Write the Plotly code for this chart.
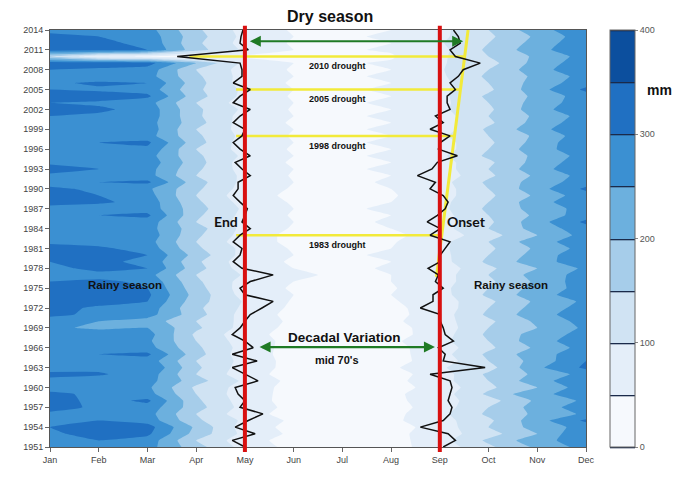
import numpy as np
import plotly.graph_objects as go

# ---------------- data ----------------
years = list(range(1951, 2015))
months = ["Jan", "Feb", "Mar", "Apr", "May", "Jun", "Jul", "Aug", "Sep", "Oct", "Nov", "Dec"]

# monthly rainfall (mm), one list per month, 1951 -> 2014
jan = [290, 280, 290, 300, 280, 290, 320, 330, 310, 280,
       290, 310, 280, 300, 290, 280, 270, 285, 260, 280,
       310, 320, 310, 320, 330, 300, 290, 280, 300, 320,
       320, 290, 280, 290, 280, 290, 280, 320, 330, 310,
       280, 290, 320, 290, 280, 290, 280, 290, 260, 290,
       300, 320, 300, 320, 300, 290, 280, 300, 330, 150,
       320, 330, 310, 290]
feb = [280, 300, 320, 330, 300, 280, 290, 280, 290, 270,
       280, 305, 290, 280, 300, 270, 250, 280, 240, 250,
       290, 290, 320, 330, 320, 310, 280, 320, 310, 330,
       310, 280, 290, 280, 290, 300, 270, 310, 300, 290,
       300, 280, 300, 280, 260, 280, 300, 280, 280, 280,
       290, 310, 290, 330, 290, 310, 260, 290, 330, 60,
       320, 310, 300, 280]
mar = [270, 280, 310, 320, 280, 270, 280, 310, 270, 260,
       270, 280, 300, 280, 310, 270, 260, 270, 250, 230,
       270, 280, 300, 310, 300, 290, 270, 300, 290, 300,
       280, 270, 280, 270, 280, 310, 280, 280, 270, 260,
       310, 270, 270, 280, 270, 290, 310, 270, 280, 270,
       280, 280, 270, 310, 280, 300, 270, 280, 320, 40,
       300, 290, 280, 270]
apr = [170, 150, 180, 190, 160, 150, 170, 160, 150, 140,
       170, 150, 160, 150, 170, 160, 150, 140, 160, 150,
       170, 160, 170, 180, 170, 160, 150, 170, 160, 180,
       160, 150, 160, 170, 150, 160, 170, 160, 150, 160,
       170, 150, 160, 170, 160, 150, 170, 160, 150, 170,
       160, 160, 150, 170, 160, 170, 160, 150, 200, 30,
       170, 160, 170, 160]
may = [80, 70, 85, 75, 90, 70, 80, 75, 70, 80,
       90, 70, 75, 85, 70, 80, 75, 70, 80, 85,
       80, 90, 95, 80, 75, 80, 95, 75, 70, 80,
       85, 70, 80, 85, 80, 85, 90, 80, 70, 80,
       85, 90, 80, 75, 90, 80, 75, 85, 80, 75,
       80, 90, 75, 85, 90, 75, 80, 80, 85, 40,
       90, 80, 85, 80]
jun = [35, 30, 40, 35, 40, 30, 35, 30, 35, 30,
       35, 30, 35, 30, 35, 30, 35, 30, 35, 40,
       35, 40, 45, 50, 45, 50, 55, 50, 45, 50,
       45, 40, 35, 45, 50, 45, 50, 45, 40, 45,
       50, 45, 50, 45, 50, 45, 50, 45, 50, 45,
       50, 45, 50, 45, 50, 45, 50, 45, 50, 40,
       50, 45, 50, 45]
jul = [25, 20, 25, 20, 30, 25, 25, 20, 25, 20,
       25, 20, 25, 25, 20, 25, 25, 20, 25, 30,
       25, 30, 35, 40, 35, 40, 45, 40, 40, 45,
       40, 35, 30, 35, 40, 40, 45, 40, 35, 40,
       40, 40, 45, 40, 45, 40, 45, 40, 45, 40,
       45, 40, 45, 40, 45, 40, 45, 40, 45, 35,
       45, 40, 45, 40]
aug = [35, 30, 35, 30, 40, 35, 30, 35, 40, 30,
       35, 30, 40, 35, 30, 35, 40, 30, 35, 40,
       35, 40, 45, 50, 45, 50, 50, 55, 50, 55,
       50, 45, 40, 50, 55, 50, 55, 50, 45, 50,
       55, 50, 55, 50, 55, 50, 55, 50, 55, 50,
       55, 50, 55, 50, 55, 50, 55, 50, 55, 45,
       55, 50, 55, 50]
sep = [70, 80, 75, 70, 80, 85, 75, 80, 75, 70,
       80, 75, 95, 70, 80, 75, 85, 75, 70, 80,
       75, 70, 75, 80, 85, 80, 75, 70, 80, 85,
       90, 85, 70, 80, 75, 80, 85, 85, 80, 75,
       80, 70, 75, 80, 90, 75, 80, 90, 70, 80,
       75, 90, 85, 85, 90, 85, 90, 95, 95, 90,
       85, 95, 90, 85]
oct_ = [140, 160, 130, 150, 140, 160, 150, 130, 160, 140,
        150, 160, 130, 150, 160, 140, 150, 160, 150, 140,
        160, 150, 140, 160, 150, 140, 150, 140, 160, 150,
        140, 150, 130, 150, 140, 150, 160, 150, 140, 150,
        160, 140, 150, 140, 160, 150, 140, 150, 160, 140,
        150, 140, 150, 160, 140, 150, 160, 150, 130, 150,
        160, 150, 140, 150]
nov = [210, 230, 200, 220, 230, 210, 220, 210, 240, 200,
       230, 210, 240, 220, 230, 210, 230, 220, 200, 210,
       230, 220, 210, 230, 220, 210, 220, 200, 230, 220,
       210, 230, 200, 220, 230, 210, 220, 230, 210, 230,
       220, 210, 230, 220, 210, 230, 220, 210, 230, 220,
       210, 230, 220, 210, 230, 220, 210, 230, 220, 210,
       230, 220, 210, 230]
dec = [270, 280, 300, 270, 310, 260, 280, 260, 270, 280,
       290, 270, 310, 300, 280, 270, 280, 270, 260, 270,
       280, 270, 260, 280, 270, 280, 270, 260, 280, 290,
       270, 280, 270, 280, 310, 280, 270, 290, 280, 310,
       280, 270, 290, 280, 270, 280, 290, 280, 300, 280,
       270, 290, 280, 280, 310, 280, 270, 290, 280, 270,
       300, 290, 280, 290]

# end of rainy season / onset (fractional month index, Jan = 0)
end_month = [4.00, 3.74, 4.21, 3.80, 4.07, 4.37, 3.90, 4.00, 3.86, 3.80,
             4.27, 4.00, 3.74, 4.25, 3.74, 4.17, 4.00, 3.74, 3.90, 4.00,
             4.11, 4.35, 4.58, 4.00, 3.90, 4.11, 4.58, 3.94, 3.76, 3.90,
             3.94, 3.76, 3.90, 4.11, 3.94, 4.00, 4.05, 3.90, 3.76, 3.86,
             3.86, 4.11, 3.94, 3.80, 4.11, 3.90, 3.76, 3.94, 4.00, 3.76,
             3.90, 4.11, 3.76, 3.90, 4.11, 3.76, 3.94, 3.94, 3.90, 2.61,
             4.07, 3.90, 3.92, 3.96]
onset_month = [8.07, 8.32, 8.17, 7.60, 8.07, 8.21, 8.25, 8.17, 8.21, 8.25,
               8.21, 7.80, 8.93, 8.07, 8.11, 7.97, 8.28, 8.11, 8.07, 8.01,
               8.01, 7.60, 7.86, 7.86, 8.07, 7.91, 7.97, 7.76, 8.01, 8.01,
               8.11, 8.21, 7.80, 8.01, 7.74, 7.95, 8.11, 8.17, 8.07, 7.80,
               7.91, 7.54, 7.84, 7.95, 8.36, 7.97, 8.01, 8.21, 7.80, 8.07,
               7.91, 8.21, 8.15, 8.15, 8.32, 8.21, 8.38, 8.48, 8.83, 8.32,
               8.21, 8.42, 8.38, 8.28]

season_bounds = [4, 8]                 # May, Sep
trend_years = [1976.7, 2014]
trend_month = [7.93, 8.58]
drought_years = [1983, 1998, 2005, 2010]
dry_arrow = [2012.3, 4.07, 8.48]       # year, from, to
decadal_arrow = [1966.1, 4.27, 7.90]

levels = [0, 400, 50]
tick_mm = [0, 100, 200, 300, 400]
bin_colors = ["#f6f9fd", "#e4eef9", "#d0e3f3", "#a6cdea",
              "#6cb0de", "#3b90d2", "#2070c2", "#0c4f9e"]

# ---------------- figure ----------------
z = np.array([jan, feb, mar, apr, may, jun, jul, aug, sep, oct_, nov, dec]).T
xm = list(range(12))
n = len(bin_colors)

# colourscale for contour fills (band midpoints land at k/(n+1))
cscale = [[0, bin_colors[0]]]
for k, c in enumerate(bin_colors):
    cscale.append([(k + 1) / (n + 1), c])
cscale.append([1, bin_colors[-1]])

# stepwise colourscale for the colourbar
step_scale = []
for k, c in enumerate(bin_colors):
    step_scale.append([k / n, c])
    step_scale.append([(k + 1) / n, c])

contours = dict(start=levels[0], end=levels[1], size=levels[2], coloring="fill")

fig = go.Figure()
fig.add_trace(go.Contour(
    x=xm, y=years, z=z, colorscale=cscale, contours=contours,
    line=dict(width=0, smoothing=0.3), showscale=False, hoverinfo="skip"))

# dummy trace (outside x-range) carrying the colourbar with separator lines
fig.add_trace(go.Contour(
    x=[-3, -2], y=[years[0], years[-1]], z=[[levels[0], levels[1]], [levels[0], levels[1]]],
    zmin=levels[0], zmax=levels[1], colorscale=step_scale,
    contours=dict(start=levels[0], end=levels[1], size=levels[2], coloring="heatmap"),
    line=dict(width=1.3, color="#1a2a4a"),
    showscale=True, hoverinfo="skip",
    colorbar=dict(x=1.045, xanchor="left", y=0, yanchor="bottom", len=1, lenmode="fraction",
                  thickness=25, thicknessmode="pixels", xpad=0, ypad=0,
                  outlinewidth=1, outlinecolor="#666",
                  tickvals=tick_mm, ticks="outside", ticklen=3, tickcolor="#888",
                  tickfont=dict(family="Liberation Sans", size=9, color="#555"))))

# onset trend line and drought lines (yellow)
yellow = "#f2ea3a"
for yr in drought_years:
    i = years.index(yr)
    x0 = min(end_month[i] + 0.25, 3.82)
    x1 = trend_month[0] + (yr - trend_years[0]) / (trend_years[1] - trend_years[0]) * (trend_month[1] - trend_month[0])
    fig.add_trace(go.Scatter(x=[x0, x1], y=[yr, yr], mode="lines",
                             line=dict(color=yellow, width=2.5), hoverinfo="skip", showlegend=False))
fig.add_trace(go.Scatter(x=trend_month, y=trend_years, mode="lines",
                         line=dict(color=yellow, width=3), hoverinfo="skip", showlegend=False))

# end / onset lines
for ser in (end_month, onset_month):
    fig.add_trace(go.Scatter(x=ser, y=years, mode="lines",
                             line=dict(color="#111", width=1.5), hoverinfo="skip", showlegend=False))

shapes = []
for b in season_bounds:
    shapes.append(dict(type="line", xref="x", yref="paper", x0=b, x1=b, y0=-0.012, y1=1.01,
                       line=dict(color="#d81010", width=4), layer="above"))

green = "#1f7a24"
annotations = []
for yr, a, b in (dry_arrow, decadal_arrow):
    annotations.append(dict(x=b, y=yr, ax=a, ay=yr, xref="x", yref="y", axref="x", ayref="y",
                            text="", showarrow=True, arrowhead=2, arrowside="end+start",
                            arrowsize=1, arrowwidth=2.2, arrowcolor=green))

bold = "Liberation Sans"
def txt(s, x, y, size, xref="x", yref="y", family=bold):
    annotations.append(dict(text="<b>%s</b>" % s, x=x, y=y, xref=xref, yref=yref, showarrow=False,
                            font=dict(family=family, size=size, color="#111"),
                            xanchor="center", yanchor="middle"))

txt("Dry season", 5.75, 1.032, 16, yref="paper")
for yr in drought_years:
    txt("%d drought" % yr, 5.9, yr - 1.45, 9)
txt("End", 3.62, 1985.1, 14, family="Lato")
txt("Onset", 8.54, 1985.1, 14, family="Lato")
txt("Rainy season", 1.53, 1975.5, 11.5)
txt("Rainy season", 9.47, 1975.5, 11.5)
txt("Decadal Variation", 6.04, 1967.6, 13.5)
txt("mid 70's", 5.9, 1964.1, 11)
txt("mm", 1.138, 0.856, 14, xref="paper", yref="paper")

axis_font = dict(family="Liberation Sans", size=9, color="#444")
# the page body adds an 8px offset, so the figure is 8px smaller with margins shifted accordingly
fig.update_layout(
    width=681, height=472,
    margin=dict(l=42, r=103, t=22, b=33),
    paper_bgcolor="white", plot_bgcolor="white",
    showlegend=False,
    shapes=shapes, annotations=annotations,
    xaxis=dict(range=[0, 11], tickmode="array", tickvals=xm, ticktext=months,
               ticks="outside", ticklen=4, tickcolor="#666", tickfont=axis_font,
               showgrid=False, zeroline=False, showline=True, linecolor="#555", linewidth=1, mirror=True),
    yaxis=dict(range=[years[0], years[-1]], tickmode="array", tickvals=years[::3],
               ticks="outside", ticklen=4, tickcolor="#666", tickfont=axis_font,
               showgrid=False, zeroline=False, showline=True, linecolor="#555", linewidth=1, mirror=True),
)

fig.write_html("out.html")
